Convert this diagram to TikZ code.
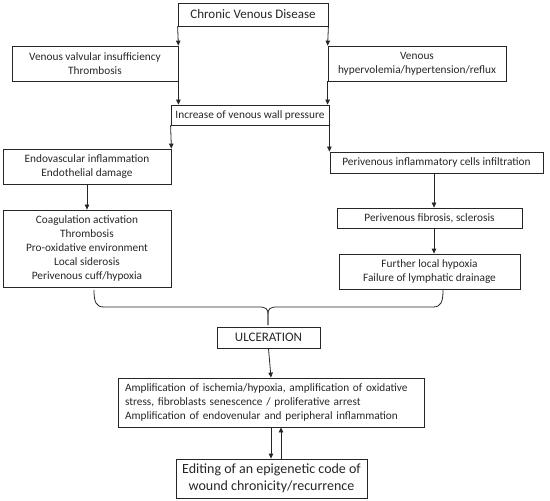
\documentclass[tikz,border=0pt]{standalone}
\usepackage{fontspec}
\setmainfont{Carlito}
\usetikzlibrary{arrows.meta}
\newcommand{\fsz}[2]{\fontsize{#1bp}{#2bp}\selectfont}
\tikzset{
  box/.style={draw=black!85, text=black!85, line width=0.8bp, inner sep=0pt, align=center, font=\fsz{11.3}{14}},
  arr/.style={draw=black!85, line width=0.8bp, -{Triangle[length=5bp,width=4.5bp]}},
  brc/.style={draw=black!85, line width=0.8bp},
}
\begin{document}
\begin{tikzpicture}[x=1bp,y=-1bp]
\useasboundingbox (0,0) rectangle (550,501);
\node[box, minimum width=150bp, minimum height=23bp, font=\fsz{13}{15}] (cvd) at (253,14.5) {Chronic Venous Disease};
\node[box, minimum width=166bp, minimum height=35bp] (vvi) at (95,63.5) {Venous valvular insufficiency\\Thrombosis};
\node[box, minimum width=178bp, minimum height=35bp] (hyp) at (417,63.5) {Venous\\hypervolemia/hypertension/reflux};
\node[box, minimum width=158bp, minimum height=20bp] (inc) at (250,115) {Increase of venous wall pressure};
\node[box, minimum width=168bp, minimum height=35bp] (endo) at (87,166.5) {Endovascular inflammation\\Endothelial damage};
\node[box, minimum width=168bp, minimum height=77bp] (coag) at (87,248.5) {Coagulation activation\\Thrombosis\\Pro-oxidative environment\\Local siderosis\\Perivenous cuff/hypoxia};
\node[box, minimum width=213bp, minimum height=21bp] (peri) at (436.5,162.5) {Perivenous inflammatory cells infiltration};
\node[box, minimum width=185bp, minimum height=20bp] (fib) at (429.5,218) {Perivenous fibrosis, sclerosis};
\node[box, minimum width=181bp, minimum height=35bp] (fur) at (429.5,271.5) {Further local hypoxia\\Failure of lymphatic drainage};
\node[box, minimum width=103bp, minimum height=21bp, font=\fsz{13}{15}] (ulc) at (268.5,337.5) {ULCERATION};
\node[box, text width=292bp, inner xsep=7bp, minimum height=49bp, align=left] (amp) at (271,402.5) {Amplification of ischemia/hypoxia, amplification of oxidative\\stress, fibroblasts senescence / proliferative arrest\\Amplification of endovenular and peripheral inflammation};
\node[box, minimum width=191bp, minimum height=39bp, font=\fsz{14}{16.5}] (edit) at (271.5,478.5) {Editing of an epigenetic code of\\wound chronicity/recurrence};
\coordinate (pf) at (434,0);
\coordinate (dn) at (271,0);
\coordinate (up) at (281,0);
\coordinate (bl) at (94,290);
\coordinate (br) at (443,290);
\coordinate (tip) at (268,325);
\draw[arr] (cvd.south west) -- (vvi.north east);
\draw[arr] (vvi.south east) -- (vvi.south east |- inc.north);
\draw[arr] (cvd.south east) -- (hyp.north west);
\draw[arr] (hyp.south west) -- (hyp.south west |- inc.north);
\draw[arr] (inc.south west) -- (endo.north east);
\draw[arr] (inc.south east) -- (inc.south east |- peri.north);
\draw[arr] (endo.south) -- (coag.north);
\draw[arr] (peri.south -| pf) -- (fib.north -| pf);
\draw[arr] (fib.south -| pf) -- (fur.north -| pf);
\draw[brc] (bl) .. controls (94,302) and (96,307) .. (104,307) -- (259,307)
  .. controls (266,307) and (268,309) .. (268,314) -- (tip);
\draw[brc] (tip) -- (268,314) .. controls (268,309) and (270,307) .. (277,307)
  -- (433,307) .. controls (441,307) and (443,302) .. (br);
\draw[arr] (ulc.south) -- (amp.north);
\draw[arr] (amp.south -| dn) -- (edit.north -| dn);
\draw[arr] (edit.north -| up) -- (amp.south -| up);
\end{tikzpicture}
\end{document}
